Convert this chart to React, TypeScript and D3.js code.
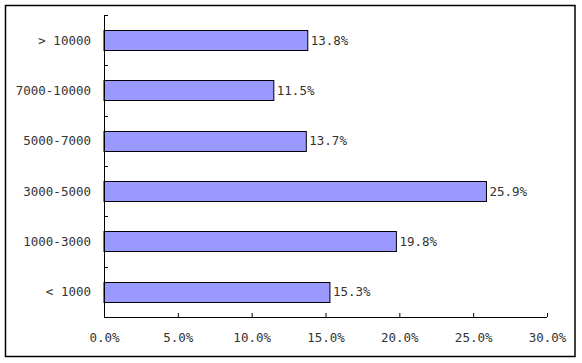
import { useEffect, useRef } from "react";
import * as d3 from "d3";

const categories = ["> 10000", "7000-10000", "5000-7000", "3000-5000", "1000-3000", "< 1000"];
const shares = [13.8, 11.5, 13.7, 25.9, 19.8, 15.3];
const xTicks = [0, 5, 10, 15, 20, 25, 30];

export default function App() {
	const svgRef = useRef<SVGSVGElement>(null);

	useEffect(() => {
		if (!svgRef.current) return;
		document.body.style.margin = "0";
		const width = 582;
		const height = 363;
		const left = 104;
		const right = 547;
		const top = 15;
		const bottom = 317;
		const font = "'DejaVu Sans Mono', monospace";

		const svg = d3.select(svgRef.current);
		svg.selectAll("*").remove();
		svg.attr("width", width).attr("height", height);

		// outer frame
		svg
			.append("rect")
			.attr("x", 5.5)
			.attr("y", 5.5)
			.attr("width", 569.5)
			.attr("height", 351)
			.attr("fill", "#fff")
			.attr("stroke", "#000")
			.attr("stroke-width", 1.5);

		const x = d3.scaleLinear().domain([0, 30]).range([left, right]);
		const y = d3
			.scaleBand<string>()
			.domain(categories)
			.range([top, bottom])
			.paddingInner(0.6)
			.paddingOuter(0.3);

		// bars
		svg
			.append("g")
			.selectAll("rect")
			.data(shares)
			.join("rect")
			.attr("x", x(0))
			.attr("y", (_, i) => Math.round(y(categories[i]) as number) + 0.5)
			.attr("width", (d) => x(d) - x(0))
			.attr("height", Math.round(y.bandwidth()))
			.attr("fill", "#9999FF")
			.attr("stroke", "#000")
			.attr("stroke-width", 1);

		// value labels
		svg
			.append("g")
			.selectAll("text")
			.data(shares)
			.join("text")
			.attr("x", (d) => x(d) + 3)
			.attr("y", (_, i) => (y(categories[i]) as number) + y.bandwidth() / 2)
			.attr("dy", "0.35em")
			.attr("font-family", font)
			.attr("font-size", 12.5)
			.attr("fill", "#333")
			.text((d) => d.toFixed(1) + "%");

		// x axis
		const xAxis = d3
			.axisBottom(x)
			.tickValues(xTicks)
			.tickSize(-4)
			.tickPadding(16)
			.tickFormat((d) => (d as number).toFixed(1) + "%");
		const gx = svg.append("g").attr("transform", `translate(0,${bottom})`).call(xAxis);
		gx.select(".domain").attr("d", `M${left},0.5H${right}`).attr("stroke", "#000");
		gx.selectAll(".tick line").attr("stroke", "#000");
		gx.selectAll(".tick text")
			.attr("font-family", font)
			.attr("font-size", 12.5)
			.attr("fill", "#333");

		// y axis
		const step = y.step();
		const boundaries = d3.range(categories.length + 1).map((i) => top + i * step);
		const gy = svg.append("g");
		gy.append("line")
			.attr("x1", left + 0.5)
			.attr("x2", left + 0.5)
			.attr("y1", top)
			.attr("y2", bottom + 0.5)
			.attr("stroke", "#000");
		gy.selectAll("line.tick")
			.data(boundaries)
			.join("line")
			.attr("class", "tick")
			.attr("x1", left)
			.attr("x2", left + 4)
			.attr("y1", (d) => Math.round(d) + 0.5)
			.attr("y2", (d) => Math.round(d) + 0.5)
			.attr("stroke", "#000");
		gy.selectAll("text")
			.data(categories)
			.join("text")
			.attr("x", 91)
			.attr("y", (d) => (y(d) as number) + y.bandwidth() / 2)
			.attr("dy", "0.35em")
			.attr("text-anchor", "end")
			.attr("font-family", font)
			.attr("font-size", 12.5)
			.attr("fill", "#333")
			.text((d) => d);
	}, []);

	return <svg ref={svgRef} style={{ display: "block" }}></svg>;
}
